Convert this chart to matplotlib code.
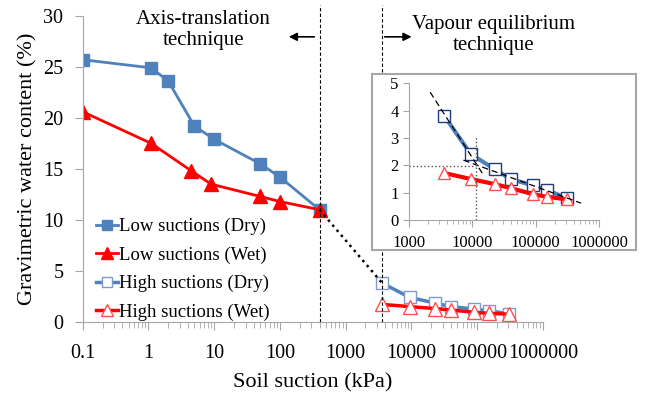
import numpy as np
import matplotlib.pyplot as plt
from matplotlib.ticker import FixedLocator, LogLocator, NullFormatter

plt.rcParams['font.family'] = ['Liberation Serif', 'DejaVu Serif']

# low suction range (axis-translation)
low_dry_x = [0.1, 1.1, 2, 5, 10, 50, 100, 400]
low_dry_y = [25.7, 24.9, 23.6, 19.2, 17.9, 15.5, 14.2, 11.0]
low_wet_x = [0.1, 1.1, 4.5, 9, 50, 100, 400]
low_wet_y = [20.6, 17.5, 14.8, 13.5, 12.3, 11.8, 11.0]

# high suction range (vapour equilibrium)
high_x = [3600, 9500, 23000, 40000, 90000, 150000, 310000]
high_dry_y = [3.8, 2.4, 1.85, 1.5, 1.27, 1.1, 0.8]
high_wet_y = [1.72, 1.5, 1.31, 1.17, 0.95, 0.85, 0.76]

# tangent construction in the inset
tan1_x = [2150, 15000]
tan1_y = [4.67, 1.64]
tan2_x = [7200, 520000]
tan2_y = [2.19, 0.62]
aev_x = 11500
aev_y = 1.96

x_ticks = [0.1, 1, 10, 100, 1000, 10000, 100000, 1000000]
x_labels = ['0.1', '1', '10', '100', '1000', '10000', '100000', '1000000']
inset_ticks = [1000, 10000, 100000, 1000000]
inset_labels = ['1000', '10000', '100000', '1000000']

blue = '#4F81BD'
red = '#FF0000'
gray = '#A6A6A6'

fig = plt.figure(figsize=(6.62, 3.96), dpi=100)
ax = fig.add_axes([0.125, 0.187, 0.695, 0.773])

ax.plot(low_dry_x, low_dry_y, color=blue, lw=2, marker='s', ms=9,
        label='Low suctions (Dry)')
ax.plot(low_wet_x, low_wet_y, color=red, lw=2, marker='^', ms=10,
        label='Low suctions (Wet)')
ax.plot(high_x, high_dry_y, color=blue, lw=2.5, marker='s', ms=9,
        mfc='white', mec='#7F9CC8', label='High suctions (Dry)')
ax.plot(high_x, high_wet_y, color=red, lw=2.5, marker='^', ms=10,
        mfc='white', mec='#FF5050', label='High suctions (Wet)')
ax.plot([low_dry_x[-1], high_x[0]], [low_dry_y[-1], high_dry_y[0]],
        color='black', lw=1.8, ls=':')

ax.axvline(low_dry_x[-1], ymin=0, ymax=1.035, color='black', lw=0.8,
           ls=(0, (3, 2)), clip_on=False)
ax.axvline(high_x[0], ymin=0, ymax=1.035, color='black', lw=0.8,
           ls=(0, (3, 2)), clip_on=False)

ax.set_xscale('log')
ax.set_xlim(0.1, 1000000)
ax.set_ylim(0, 30)
ax.xaxis.set_major_locator(FixedLocator(x_ticks))
ax.set_xticklabels(x_labels)
ax.xaxis.set_minor_locator(LogLocator(base=10, subs=np.arange(2, 10)))
ax.xaxis.set_minor_formatter(NullFormatter())
ax.set_yticks(range(0, 31, 5))
for s in ['top', 'right']:
    ax.spines[s].set_visible(False)
for s in ['left', 'bottom']:
    ax.spines[s].set_color(gray)
ax.tick_params(axis='both', which='both', color=gray, labelsize=14.5)
ax.tick_params(axis='x', which='major', length=6, pad=10)
ax.tick_params(axis='x', which='minor', length=4)
ax.tick_params(axis='y', length=6, pad=8)
ax.set_xlabel('Soil suction (kPa)', fontsize=16, labelpad=7)
ax.set_ylabel('Gravimetric water content (%)', fontsize=16, labelpad=4)

ax.legend(loc='lower left', bbox_to_anchor=(-0.008, -0.052), frameon=False,
          fontsize=13.5, handlelength=1.2, handletextpad=0.05,
          labelspacing=0.6, markerscale=0.8)

ax.text(0.307, 0.925, 'Axis-translation\ntechnique', transform=fig.transFigure,
        ha='center', va='center', fontsize=15, linespacing=1.15)
ax.text(0.745, 0.912, 'Vapour equilibrium\ntechnique', transform=fig.transFigure,
        ha='center', va='center', fontsize=15, linespacing=1.15)
ax.annotate('', xy=(0.432, 0.907), xytext=(0.479, 0.907),
            xycoords='figure fraction',
            arrowprops=dict(arrowstyle='-|>', color='black', lw=1.2,
                            mutation_scale=12))
ax.annotate('', xy=(0.626, 0.907), xytext=(0.577, 0.907),
            xycoords='figure fraction',
            arrowprops=dict(arrowstyle='-|>', color='black', lw=1.2,
                            mutation_scale=12))

# inset frame
frame = fig.add_axes([0.562, 0.369, 0.399, 0.444])
frame.set_xticks([])
frame.set_yticks([])
frame.set_facecolor('white')
for s in frame.spines.values():
    s.set_color(gray)
    s.set_linewidth(1.5)

ins = fig.add_axes([0.618, 0.444, 0.287, 0.346])
ins.patch.set_alpha(0)
ins.plot(high_x, high_dry_y, color=blue, lw=3, marker='s', ms=8,
         mfc='white', mec='#1F3D7A', mew=1)
ins.plot(high_x, high_wet_y, color=red, lw=3, marker='^', ms=8,
         mfc='white', mec='#FF5050', mew=1)
ins.plot(tan1_x, tan1_y, color='black', lw=0.9, ls=(0, (5, 3)))
ins.plot(tan2_x, tan2_y, color='black', lw=0.9, ls=(0, (5, 3)))
ins.plot([1000, aev_x], [aev_y, aev_y], color='#555555', lw=1, ls=':')
ins.plot([aev_x, aev_x], [0, 3.07], color='#555555', lw=1, ls=':')
ins.set_xscale('log')
ins.set_xlim(1000, 1000000)
ins.set_ylim(0, 5)
ins.xaxis.set_major_locator(FixedLocator(inset_ticks))
ins.set_xticklabels(inset_labels)
ins.xaxis.set_minor_locator(LogLocator(base=10, subs=np.arange(2, 10)))
ins.xaxis.set_minor_formatter(NullFormatter())
ins.set_yticks(range(0, 6))
for s in ['top', 'right']:
    ins.spines[s].set_visible(False)
for s in ['left', 'bottom']:
    ins.spines[s].set_color(gray)
ins.tick_params(axis='both', which='both', color=gray, labelsize=12)
ins.tick_params(axis='x', which='major', length=5, pad=6)
ins.tick_params(axis='x', which='minor', length=3)
ins.tick_params(axis='y', length=4)

fig.savefig('out.png', dpi=100)
